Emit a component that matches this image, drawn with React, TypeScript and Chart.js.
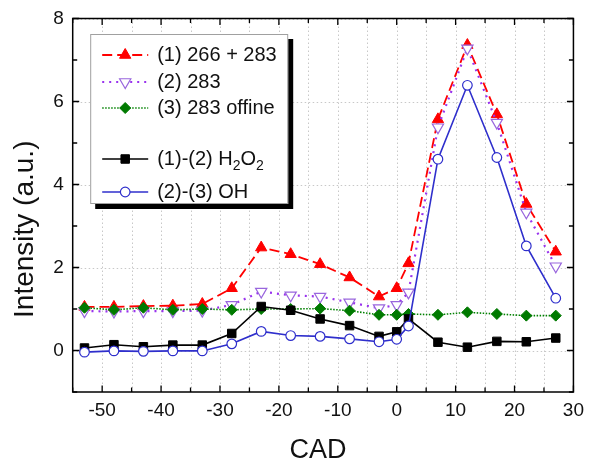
import React, { useEffect, useRef } from 'react';
import { Chart, registerables } from 'chart.js';
import { drawPoint } from 'chart.js/helpers';

Chart.register(...registerables);

const FONT = 'Arial, "Liberation Sans", sans-serif';

// ---- data ----
const cad = [-53, -48, -43, -38, -33, -28, -23, -18, -13, -8, -3, 0, 2, 7, 12, 17, 22, 27];
const s266plus283 = [1.05, 1.05, 1.07, 1.08, 1.12, 1.5, 2.48, 2.32, 2.08, 1.76, 1.3, 1.5, 2.1, 5.57, 7.36, 5.69, 3.53, 2.38];
const s283 = [0.95, 0.94, 0.95, 0.95, 0.96, 1.1, 1.42, 1.33, 1.3, 1.16, 1.02, 1.1, 1.4, 5.38, 7.28, 5.49, 3.33, 2.03];
const s283offine = [1.03, 0.98, 1.03, 0.98, 1.0, 0.98, 1.0, 1.0, 1.01, 0.96, 0.86, 0.86, 0.88, 0.86, 0.92, 0.88, 0.84, 0.84];
const sH2O2 = [0.06, 0.14, 0.09, 0.13, 0.13, 0.41, 1.06, 0.97, 0.76, 0.6, 0.34, 0.45, 0.76, 0.2, 0.08, 0.22, 0.21, 0.3];
const sOH = [-0.04, -0.01, -0.02, -0.01, -0.01, 0.16, 0.46, 0.36, 0.34, 0.28, 0.21, 0.27, 0.59, 4.61, 6.39, 4.65, 2.52, 1.26];

const seriesLabels = ['(1) 266 + 283', '(2) 283', '(3) 283 offine', '(1)-(2) H2O2', '(2)-(3) OH'];
const seriesValues = [s266plus283, s283, s283offine, sH2O2, sOH];

const xTitle = 'CAD';
const yTitle = 'Intensity (a.u.)';
const xMin = -55, xMax = 30, xStep = 5, xLabelEvery = 10;
const yMin = -1, yMax = 8, yStep = 1, yLabelEvery = 2;

// ---- styles ----
const styles = [
  { line: '#ff0000', dash: [10, 5], width: 1.8, point: 'triangle', radius: 6.5, rot: 0, fill: '#ff0000', border: '#ff0000', bw: 1 },
  { line: '#9933ee', dash: [2, 5], width: 2.2, point: 'triangle', radius: 6.5, rot: 180, fill: '#ffffff', border: '#9966dd', bw: 1.2 },
  { line: '#008000', dash: [1.5, 1.5], width: 1.6, point: 'rectRot', radius: 5.5, rot: 0, fill: '#007a00', border: '#007a00', bw: 1 },
  { line: '#000000', dash: [], width: 1.6, point: 'rect', radius: 6, rot: 0, fill: '#000000', border: '#000000', bw: 1 },
  { line: '#2f2fcc', dash: [], width: 1.6, point: 'circle', radius: 4.8, rot: 0, fill: '#ffffff', border: '#2f2fcc', bw: 1.2 },
];

function drawSample(ctx: CanvasRenderingContext2D, i: number, x0: number, x1: number, y: number) {
  const s = styles[i];
  ctx.save();
  ctx.strokeStyle = s.line;
  ctx.lineWidth = s.width;
  ctx.setLineDash(s.dash);
  ctx.beginPath();
  ctx.moveTo(x0, y);
  ctx.lineTo(x1, y);
  ctx.stroke();
  ctx.setLineDash([]);
  ctx.fillStyle = s.fill;
  ctx.strokeStyle = s.border;
  ctx.lineWidth = s.bw;
  drawPoint(ctx, { pointStyle: s.point, rotation: s.rot, radius: s.radius, borderWidth: s.bw } as any, (x0 + x1) / 2, y);
  ctx.restore();
}

function drawLabel(ctx: CanvasRenderingContext2D, text: string, x: number, y: number) {
  const m = text.match(/^(.*)H2O2$/);
  ctx.textBaseline = 'middle';
  ctx.textAlign = 'left';
  if (!m) {
    ctx.font = `20px ${FONT}`;
    ctx.fillText(text, x, y);
    return;
  }
  const parts: [string, boolean][] = [[m[1] + 'H', false], ['2', true], ['O', false], ['2', true]];
  let cx = x;
  for (const [t, sub] of parts) {
    ctx.font = sub ? `14px ${FONT}` : `20px ${FONT}`;
    ctx.fillText(t, cx, sub ? y + 7 : y);
    cx += ctx.measureText(t).width;
  }
}

const decor = {
  id: 'decor',
  beforeDatasetsDraw(chart: any) {
    // dotted grid lines
    const { ctx, chartArea: a, scales } = chart;
    const xs = scales.x, ys = scales.y;
    ctx.save();
    ctx.strokeStyle = '#c8c8c8';
    ctx.lineWidth = 1;
    ctx.setLineDash([1.5, 2.5]);
    ctx.beginPath();
    for (let v = xMin + xStep; v < xMax - 1e-9; v += xStep) {
      const px = Math.round(xs.getPixelForValue(v)) + 0.5;
      ctx.moveTo(px, a.top); ctx.lineTo(px, a.bottom);
    }
    for (let v = yMin; v <= yMax + 1e-9; v += yStep) {
      if (Math.abs(v % yLabelEvery) > 1e-9) continue;
      const py = Math.round(ys.getPixelForValue(v)) + 0.5;
      ctx.moveTo(a.left, py); ctx.lineTo(a.right, py);
    }
    ctx.stroke();
    ctx.restore();
  },
  afterDraw(chart: any) {
    const { ctx, chartArea: a, scales } = chart;
    const xs = scales.x, ys = scales.y;
    ctx.save();
    // frame
    ctx.strokeStyle = '#000';
    ctx.lineWidth = 1.5;
    ctx.strokeRect(a.left, a.top, a.right - a.left, a.bottom - a.top);
    // inward ticks on all sides
    ctx.lineWidth = 1.3;
    ctx.beginPath();
    for (let v = xMin; v <= xMax + 1e-9; v += xStep) {
      const px = xs.getPixelForValue(v);
      const len = Math.abs(v % xLabelEvery) < 1e-9 ? 6.5 : 4.5;
      ctx.moveTo(px, a.bottom); ctx.lineTo(px, a.bottom - len);
      ctx.moveTo(px, a.top); ctx.lineTo(px, a.top + len);
    }
    for (let v = yMin; v <= yMax + 1e-9; v += yStep) {
      const py = ys.getPixelForValue(v);
      const len = Math.abs(v % yLabelEvery) < 1e-9 ? 6.5 : 4.5;
      ctx.moveTo(a.left, py); ctx.lineTo(a.left + len, py);
      ctx.moveTo(a.right, py); ctx.lineTo(a.right - len, py);
    }
    ctx.stroke();

    // axis titles
    ctx.fillStyle = '#111';
    ctx.font = `27px ${FONT}`;
    ctx.textAlign = 'center';
    ctx.textBaseline = 'middle';
    ctx.fillText(xTitle, (a.left + a.right) / 2 - 5, a.bottom + 59);
    ctx.save();
    ctx.translate(25, (a.top + a.bottom) / 2 + 24);
    ctx.rotate(-Math.PI / 2);
    ctx.font = `28px ${FONT}`;
    ctx.fillText(yTitle, 0, 0);
    ctx.restore();

    // legend
    const lx = a.left + 17.5, ly = a.top + 15.5, lw = 198, lh = 170;
    ctx.fillStyle = '#000';
    ctx.fillRect(lx + 5, ly + 5, lw, lh);
    ctx.fillStyle = '#fff';
    ctx.fillRect(lx, ly, lw, lh);
    ctx.strokeStyle = '#a0a0a0';
    ctx.lineWidth = 1;
    ctx.strokeRect(lx + 0.5, ly + 0.5, lw - 1, lh - 1);
    const rowY = [21, 48, 74, 125, 158];
    for (let i = 0; i < seriesLabels.length; i++) {
      const y = ly + rowY[i];
      drawSample(ctx, i, lx + 12, lx + 58, y);
      ctx.fillStyle = '#111';
      drawLabel(ctx, seriesLabels[i], lx + 67, y);
    }
    ctx.restore();
  },
};

export default function App() {
  const ref = useRef<HTMLCanvasElement>(null);
  useEffect(() => {
    if (!ref.current) return;
    const datasets = seriesValues.map((vals, i) => {
      const s = styles[i];
      return {
        label: seriesLabels[i],
        data: cad.map((x, j) => ({ x, y: vals[j] })),
        borderColor: s.line,
        borderWidth: s.width,
        borderDash: s.dash,
        pointStyle: s.point,
        pointRotation: s.rot,
        pointRadius: s.radius,
        pointHoverRadius: s.radius,
        pointBackgroundColor: s.fill,
        pointBorderColor: s.border,
        pointBorderWidth: s.bw,
        fill: false,
        tension: 0,
        order: seriesLabels.length - i,
      };
    });
    const chart = new Chart(ref.current, {
      type: 'line',
      data: { datasets },
      options: {
        animation: false,
        responsive: true,
        maintainAspectRatio: false,
        layout: { padding: { left: 0, right: 13.3, top: 11, bottom: 0 } },
        plugins: { legend: { display: false }, tooltip: { enabled: false } },
        scales: {
          x: {
            type: 'linear',
            min: xMin,
            max: xMax,
            afterFit: (s: any) => { s.height = 74; },
            ticks: {
              stepSize: xStep,
              autoSkip: false,
              maxRotation: 0,
              padding: 7,
              color: '#111',
              font: { family: FONT, size: 19 },
              callback: (v: any) => (Math.abs(Number(v) % xLabelEvery) < 1e-9 ? String(v) : ''),
            },
            grid: { display: false, drawTicks: false },
            border: { display: false },
          },
          y: {
            type: 'linear',
            min: yMin,
            max: yMax,
            afterFit: (s: any) => { s.width = 72.7; },
            ticks: {
              stepSize: yStep,
              autoSkip: false,
              padding: 9,
              color: '#111',
              font: { family: FONT, size: 19, lineHeight: 1 },
              callback: (v: any) => (Number(v) >= 0 && Math.abs(Number(v) % yLabelEvery) < 1e-9 ? String(v) : ''),
            },
            grid: { display: false, drawTicks: false },
            border: { display: false },
          },
        },
      },
      plugins: [decor],
    } as any);
    return () => chart.destroy();
  }, []);
  return (
    <div style={{ position: 'fixed', left: 0, top: 0, width: 591, height: 466, background: '#fff' }}>
      <canvas ref={ref} />
    </div>
  );
}
